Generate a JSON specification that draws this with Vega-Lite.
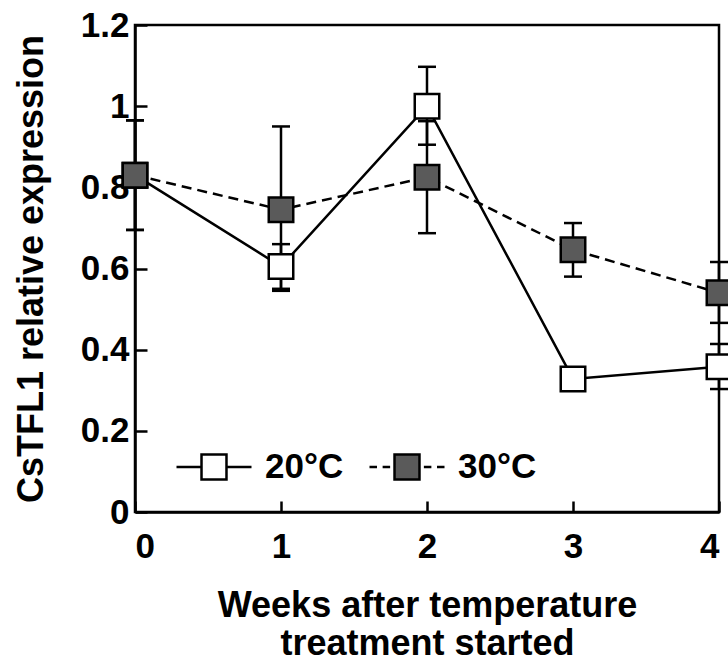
{
  "$schema": "https://vega.github.io/schema/vega-lite/v6.json",
  "width": 584,
  "height": 487,
  "autosize": "none",
  "padding": {"left": 135, "top": 25, "right": 9, "bottom": 156},
  "background": "white",
  "config": {
    "font": "Liberation Sans",
    "view": {"stroke": "black", "strokeWidth": 2.5},
    "axis": {
      "grid": false,
      "domainColor": "black",
      "domainWidth": 2.5,
      "tickColor": "black",
      "tickWidth": 2.5,
      "labelFont": "Liberation Sans",
      "labelFontWeight": "bold",
      "labelFontSize": 35,
      "labelColor": "black",
      "titleFont": "Liberation Sans",
      "titleFontWeight": "bold",
      "titleFontSize": 36,
      "titleColor": "black"
    },
    "legend": {
      "labelFont": "Liberation Sans",
      "labelFontWeight": "bold",
      "labelFontSize": 35,
      "labelColor": "black"
    }
  },
  "data": {
    "values": [
      {"week": 0, "temp": "20°C", "mean": 0.83, "lo": 0.695, "hi": 0.965},
      {"week": 1, "temp": "20°C", "mean": 0.605, "lo": 0.55, "hi": 0.66},
      {"week": 2, "temp": "20°C", "mean": 1.0, "lo": 0.905, "hi": 1.097},
      {"week": 3, "temp": "20°C", "mean": 0.328, "lo": 0.31, "hi": 0.345},
      {"week": 4, "temp": "20°C", "mean": 0.358, "lo": 0.303, "hi": 0.414},
      {"week": 0, "temp": "30°C", "mean": 0.83, "lo": 0.695, "hi": 0.965},
      {"week": 1, "temp": "30°C", "mean": 0.745, "lo": 0.545, "hi": 0.95},
      {"week": 2, "temp": "30°C", "mean": 0.825, "lo": 0.687, "hi": 0.963},
      {"week": 3, "temp": "30°C", "mean": 0.646, "lo": 0.58, "hi": 0.712},
      {"week": 4, "temp": "30°C", "mean": 0.54, "lo": 0.466, "hi": 0.616}
    ]
  },
  "encoding": {
    "x": {
      "field": "week",
      "type": "quantitative",
      "scale": {"domain": [0, 4], "nice": false},
      "axis": {
        "values": [0, 1, 2, 3, 4],
        "format": "d",
        "tickSize": -11,
        "labelPadding": 28,
        "title": ["Weeks after temperature", "treatment started"],
        "titlePadding": 24,
        "titleLineHeight": 38
      }
    }
  },
  "layer": [
    {
      "transform": [{"filter": "datum.temp === '20°C'"}],
      "mark": {"type": "line", "stroke": "black", "strokeWidth": 2.5},
      "encoding": {
        "y": {
          "field": "mean",
          "type": "quantitative",
          "scale": {"domain": [0, 1.2], "nice": false},
          "axis": {
            "values": [0, 0.2, 0.4, 0.6, 0.8, 1, 1.2],
            "format": "~g",
            "tickSize": -12,
            "labelPadding": 18,
            "title": "CsTFL1 relative expression",
            "titlePadding": 30
          }
        }
      }
    },
    {
      "transform": [{"filter": "datum.temp === '30°C'"}],
      "mark": {"type": "line", "stroke": "black", "strokeWidth": 2.5, "strokeDash": [10, 6]},
      "encoding": {
        "y": {"field": "mean", "type": "quantitative"}
      }
    },
    {
      "mark": {"type": "rule", "stroke": "black", "strokeWidth": 2.5},
      "encoding": {
        "y": {"field": "lo", "type": "quantitative"},
        "y2": {"field": "hi"}
      }
    },
    {
      "mark": {"type": "tick", "orient": "horizontal", "color": "black", "size": 18, "thickness": 2.5, "opacity": 1},
      "encoding": {
        "y": {"field": "lo", "type": "quantitative"}
      }
    },
    {
      "mark": {"type": "tick", "orient": "horizontal", "color": "black", "size": 18, "thickness": 2.5, "opacity": 1},
      "encoding": {
        "y": {"field": "hi", "type": "quantitative"}
      }
    },
    {
      "mark": {"type": "point", "shape": "square", "filled": true, "size": 600, "stroke": "black", "strokeWidth": 2.5, "opacity": 1},
      "encoding": {
        "y": {"field": "mean", "type": "quantitative"},
        "fill": {
          "field": "temp",
          "type": "nominal",
          "scale": {"domain": ["20°C", "30°C"], "range": ["white", "#5a5a5a"]},
          "legend": {
            "title": null,
            "orient": "none",
            "legendX": 40,
            "legendY": 403,
            "direction": "horizontal",
            "columns": 2,
            "columnPadding": 20,
            "symbolSize": 5625,
            "symbolType": "M-1,0H-0.333M0.333,0H1M-0.333,-0.333H0.333V0.333H-0.333Z",
            "symbolStrokeColor": "black",
            "symbolStrokeWidth": 2.5,
            "symbolOpacity": 1,
            "labelOffset": 12,
            "encode": {
              "symbols": {
                "update": {
                  "shape": {"signal": "datum.value === '20°C' ? 'M-1,0H-0.333M0.333,0H1M-0.333,-0.333H0.333V0.333H-0.333Z' : 'M-1,0H-0.8M-0.65,0H-0.45M0.45,0H0.65M0.8,0H1M-0.333,-0.333H0.333V0.333H-0.333Z'"},
                  "stroke": {"value": "black"},
                  "strokeWidth": {"value": 2.5}
                }
              }
            }
          }
        }
      }
    }
  ]
}
